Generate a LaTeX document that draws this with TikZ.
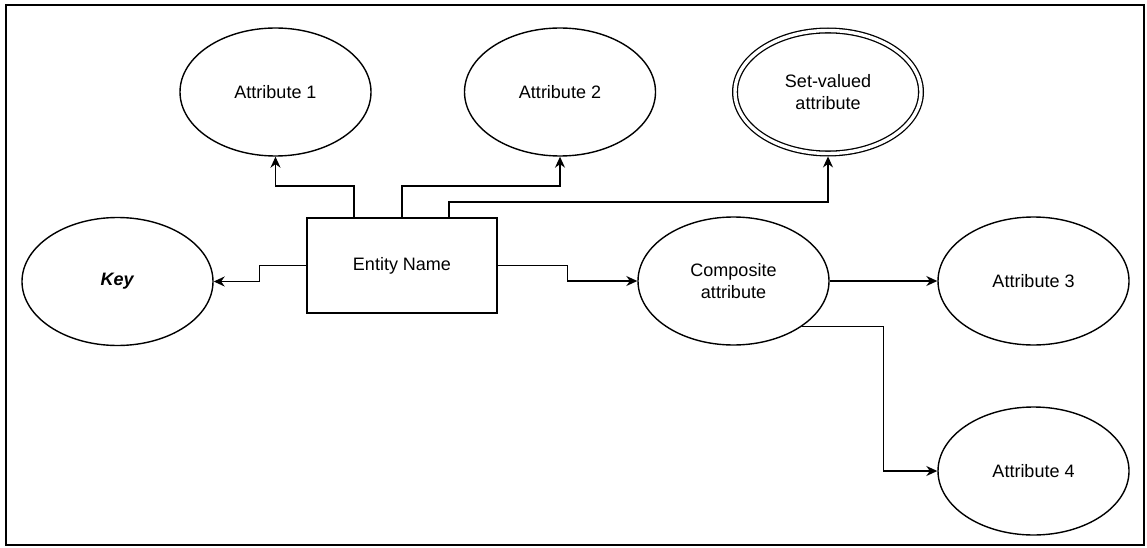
\documentclass[tikz,border=0pt]{standalone}
\usepackage{fontspec}
\setmainfont{Liberation Sans}
\usetikzlibrary{shapes.geometric,arrows.meta}
\begin{document}
\begin{tikzpicture}[x=1pt,y=-1pt,
  attr/.style={ellipse,draw,line width=1.4pt,minimum width=191pt,minimum height=128pt,inner sep=0pt,align=center,font=\fontsize{18}{22}\selectfont},
  mvattr/.style={ellipse,draw,line width=1.3pt,double,double distance=3.4pt,minimum width=186pt,minimum height=123pt,inner sep=0pt,align=center,font=\fontsize{18}{22}\selectfont},
  entbox/.style={rectangle,draw,line width=1.4pt,minimum width=190pt,minimum height=95pt,inner sep=0pt,font=\fontsize{18}{22}\selectfont},
  arr/.style={line width=1.4pt,-{Stealth[length=11pt,width=10pt]}}]
\useasboundingbox (0,0) rectangle (1147,548);
\draw[line width=2.5pt] (6,5) rectangle (1144,545);
\node[attr] (a1) at (275.5,92) {Attribute 1};
\node[attr] (a2) at (560,92) {Attribute 2};
\node[mvattr] (sv) at (828,92) {Set-valued\\attribute};
\node[attr] (key) at (117.5,281.5) {\textbf{\textit{Key}}};
\node[entbox] (ent) at (402,265.5) {Entity Name};
\node[attr] (comp) at (733.5,281) {Composite\\attribute};
\node[attr] (a3) at (1033.5,281) {Attribute 3};
\node[attr] (a4) at (1033.5,471) {Attribute 4};
\draw[arr] ([xshift=-48pt]ent.north) -- ++(0,-31.5) -| (a1);
\draw[arr] (ent.north) -- ++(0,-31.5) -| (a2);
\draw[arr,shorten >=2.3pt] ([xshift=47pt]ent.north) -- ++(0,-15.5) -| (sv);
\draw[arr] (ent.west) -- ++(-47,0) |- (key);
\draw[arr] (ent.east) -- ++(70,0) |- (comp);
\draw[arr] (comp) -- (a3);
\draw[arr] (comp.south east) -- ++(82,0) |- (a4);
\end{tikzpicture}
\end{document}
